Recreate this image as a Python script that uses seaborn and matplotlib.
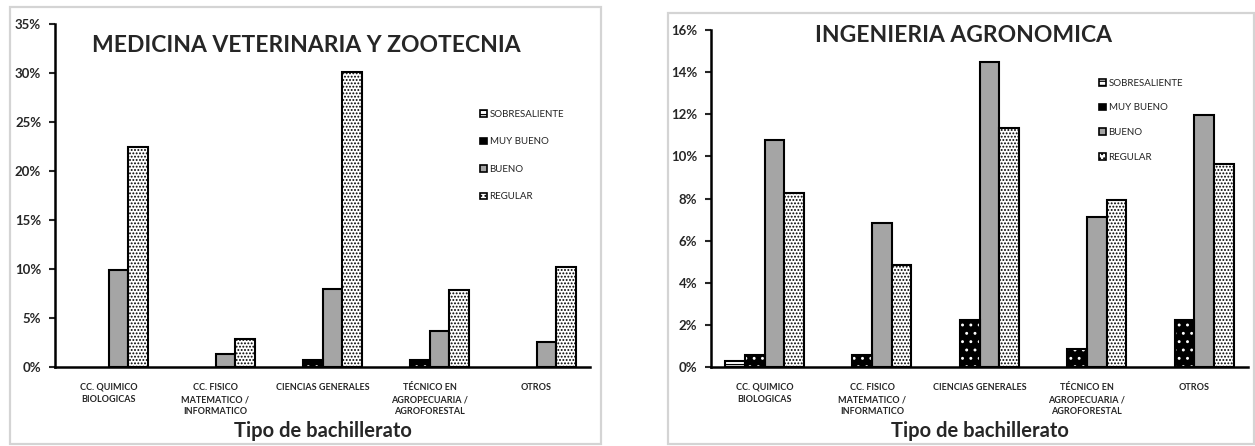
import numpy as np
import pandas as pd
import seaborn as sns
import matplotlib.pyplot as plt
from matplotlib.patches import Rectangle, Patch
from matplotlib.ticker import PercentFormatter, MultipleLocator

# datos (porcentajes)
categorias = [
    "CC. QUIMICO\nBIOLOGICAS",
    "CC. FISICO\nMATEMATICO /\nINFORMATICO",
    "CIENCIAS GENERALES",
    "TÉCNICO EN\nAGROPECUARIA /\nAGROFORESTAL",
    "OTROS",
]
niveles = ["SOBRESALIENTE", "MUY BUENO", "BUENO", "REGULAR"]

mvz_sobresaliente = [0.0, 0.0, 0.0, 0.0, 0.0]
mvz_muy_bueno = [0.0, 0.0, 0.7, 0.7, 0.0]
mvz_bueno = [9.9, 1.3, 8.0, 3.7, 2.6]
mvz_regular = [22.4, 2.9, 30.1, 7.9, 10.2]

ia_sobresaliente = [0.3, 0.0, 0.0, 0.0, 0.0]
ia_muy_bueno = [0.55, 0.55, 2.25, 0.85, 2.25]
ia_bueno = [10.8, 6.85, 14.5, 7.1, 11.95]
ia_regular = [8.25, 4.85, 11.35, 7.95, 9.65]


def tabla(series):
    filas = []
    for nivel, valores in zip(niveles, series):
        for cat, v in zip(categorias, valores):
            filas.append({"tipo": cat, "nivel": nivel, "valor": v})
    return pd.DataFrame(filas)


df_mvz = tabla([mvz_sobresaliente, mvz_muy_bueno, mvz_bueno, mvz_regular])
df_ia = tabla([ia_sobresaliente, ia_muy_bueno, ia_bueno, ia_regular])

sns.set_style("white")
plt.rcParams["font.family"] = ["Lato", "DejaVu Sans"]
plt.rcParams["hatch.linewidth"] = 0.9

W, H = 1255, 446
fig = plt.figure(figsize=(W / 100, H / 100), dpi=100)


def px_axes(x0, x1, ytop, ybot):
    return fig.add_axes([x0 / W, 1 - ybot / H, (x1 - x0) / W, (ybot - ytop) / H])


def marco(x0, x1, ytop, ybot):
    fig.add_artist(Rectangle((x0 / W, 1 - ybot / H), (x1 - x0) / W, (ybot - ytop) / H,
                             transform=fig.transFigure, fill=False,
                             edgecolor="#d4d4d4", lw=1.6))


GRIS = "#a5a5a5"


def dibujar(ax, df, ymax, paso, titulo, titulo_xy, leg_anchor, leg_sp, alto_px):
    sns.barplot(data=df, x="tipo", y="valor", hue="nivel", hue_order=niveles,
                order=categorias, ax=ax, width=0.73, legend=False,
                palette=["white", "black", GRIS, "white"], saturation=1,
                edgecolor="black", linewidth=1.5, errorbar=None)
    cont = ax.containers
    for bar in cont[0]:
        bar.set_hatch("----")
    for bar in cont[1]:
        # negro con puntos blancos + contorno negro
        bar.set_facecolor("black")
        bar.set_edgecolor("white")
        bar.set_hatch("..")
        bar.set_linewidth(0)
        if bar.get_height() > 0:
            ax.add_patch(Rectangle(bar.get_xy(), bar.get_width(), bar.get_height(),
                                   fill=False, edgecolor="black", lw=1.5, zorder=3))
    for bar in cont[3]:
        bar.set_hatch(".....")
    # Excel no dibuja las barras en cero
    for c in cont:
        for bar in c:
            if bar.get_height() == 0:
                bar.set_visible(False)

    ax.set_ylim(0, ymax)
    ax.set_xlim(-0.5, 4.5)
    ax.yaxis.set_major_locator(MultipleLocator(paso))
    ax.yaxis.set_major_formatter(PercentFormatter(xmax=100, decimals=0))
    for s in ["top", "right"]:
        ax.spines[s].set_visible(False)
    for s in ["left", "bottom"]:
        ax.spines[s].set_linewidth(1.8)
        ax.spines[s].set_color("black")
        ax.spines[s].set_zorder(4)
    ax.tick_params(axis="y", left=True, length=4, width=1.5, pad=6,
                   labelsize=9.5, direction="out")
    ax.tick_params(axis="x", bottom=False, pad=8, labelsize=6.5)
    for lab in ax.get_yticklabels():
        lab.set_fontweight("bold")
    for lab in ax.get_xticklabels():
        lab.set_fontweight("bold")
        lab.set_linespacing(1.45)
    ax.set_xlabel("Tipo de bachillerato", fontsize=14.5, fontweight="bold")
    ax.xaxis.set_label_coords(0.5, -(421 - 367) / alto_px)
    ax.set_ylabel("")
    fig.text(titulo_xy[0] / W, 1 - titulo_xy[1] / H, titulo, fontsize=16.5,
             fontweight="bold", ha="center", va="center")

    handles = [
        Patch(facecolor="white", edgecolor="black", hatch="----", lw=1.2),
        Patch(facecolor="black", edgecolor="black", lw=1.2),
        Patch(facecolor=GRIS, edgecolor="black", lw=1.2),
        Patch(facecolor="white", edgecolor="black", hatch="....", lw=1.2),
    ]
    leg = ax.legend(handles, niveles, loc="upper left", bbox_to_anchor=leg_anchor,
                    frameon=False, fontsize=7, handlelength=0.7, handleheight=0.7,
                    handletextpad=0.3, labelspacing=leg_sp, borderaxespad=0)
    for t in leg.get_texts():
        t.set_color("#222222")


ax1 = px_axes(55, 590, 24, 367)
ax2 = px_axes(711, 1248, 30, 367)
marco(10, 601, 7, 444)
marco(668, 1254, 13, 444)

dibujar(ax1, df_mvz, 35, 5, "MEDICINA VETERINARIA Y ZOOTECNIA", (306, 46),
        ((476 - 55) / 535, (367 - 106) / 343), 1.9, 343)
dibujar(ax2, df_ia, 16, 2, "INGENIERIA AGRONOMICA", (963, 35),
        ((1095 - 711) / 537, (367 - 75) / 337), 1.6, 337)

fig.savefig("out.png", dpi=100)
